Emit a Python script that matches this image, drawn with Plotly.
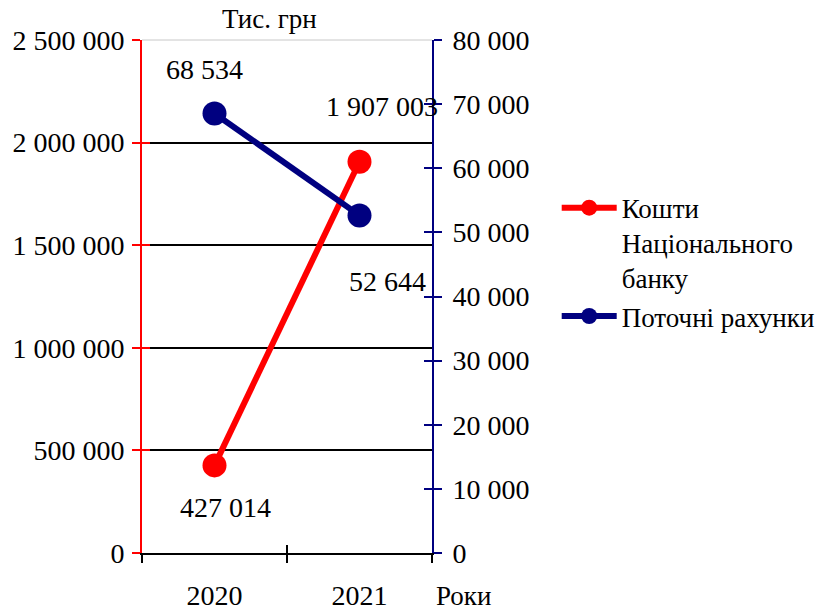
import plotly.graph_objects as go

years = ["2020", "2021"]
nbu_funds = [427014, 1907003]          # Кошти Національного банку, left axis
current_accounts = [68534, 52644]      # Поточні рахунки, right axis
left_ticks = [0, 500000, 1000000, 1500000, 2000000, 2500000]
right_ticks = [0, 10000, 20000, 30000, 40000, 50000, 60000, 70000, 80000]

RED = "#FF0000"
NAVY = "#000080"
FONT = "Liberation Serif"
FS = 28


def fmt(v):
    return f"{v:,}".replace(",", " ")


fig = go.Figure()

fig.add_trace(go.Scatter(
    x=years, y=nbu_funds, name="Кошти<br>Національного<br>банку",
    mode="lines+markers", line=dict(color=RED, width=6),
    marker=dict(color=RED, size=24), yaxis="y", xaxis="x",
))
fig.add_trace(go.Scatter(
    x=years, y=current_accounts, name="Поточні рахунки",
    mode="lines+markers", line=dict(color=NAVY, width=6),
    marker=dict(color=NAVY, size=24), yaxis="y2", xaxis="x",
))
# invisible traces carrying the inner halves of the crossing ticks
fig.add_trace(go.Scatter(x=years, y=nbu_funds, yaxis="y3", xaxis="x2",
                         mode="none", showlegend=False, hoverinfo="skip"))
fig.add_trace(go.Scatter(x=years, y=current_accounts, yaxis="y4", xaxis="x2",
                         mode="none", showlegend=False, hoverinfo="skip"))

# value labels (x given as category index)
labels = [
    (0, nbu_funds[0], "y", 11, -42),
    (1, nbu_funds[1], "y", 22, 55),
    (0, current_accounts[0], "y2", -10, 44),
    (1, current_accounts[1], "y2", 28, -66),
]
for xi, y, yref, dx, dy in labels:
    fig.add_annotation(x=xi, y=y, xref="x", yref=yref, text=fmt(y),
                       showarrow=False, xshift=dx, yshift=dy,
                       xanchor="center", yanchor="middle",
                       font=dict(family=FONT, size=FS, color="black"))

fig.add_annotation(x=0.438, y=1.0, xref="paper", yref="paper", text="Тис. грн",
                   showarrow=False, xanchor="center", yanchor="bottom", yshift=4,
                   font=dict(family=FONT, size=FS - 1, color="black"))
fig.add_annotation(x=1.107, y=0, xref="paper", yref="paper", text="Роки",
                   showarrow=False, xanchor="center", yanchor="middle", yshift=-43,
                   font=dict(family=FONT, size=FS - 1, color="black"))

# light top border of the plot area
fig.add_shape(type="line", xref="x domain", yref="y domain", x0=0, x1=1, y0=1, y1=1,
              line=dict(color="#C8C8C8", width=1), layer="above")

axis_font = dict(family=FONT, size=FS, color="black")
fig.update_layout(
    width=817, height=611,
    margin=dict(l=142, r=385, t=40, b=58, autoexpand=False),
    paper_bgcolor="white", plot_bgcolor="white",
    font=dict(family=FONT, size=FS, color="black"),
    showlegend=True,
    legend=dict(x=1.43, y=0.72, xanchor="left", yanchor="top", valign="top",
                font=dict(family=FONT, size=27, color="black"),
                itemwidth=55, tracegroupgap=0, bgcolor="rgba(0,0,0,0)"),
    xaxis=dict(type="category", range=[-0.5, 1.5], tickson="boundaries",
               ticks="outside", ticklen=8, tickwidth=2, tickcolor="black",
               showline=True, linecolor="black", linewidth=2,
               showgrid=False, zeroline=False, tickfont=axis_font,
               ticklabelstandoff=16, fixedrange=True, automargin=False),
    xaxis2=dict(type="category", range=[-0.5, 1.5], overlaying="x", tickson="boundaries",
                ticks="inside", ticklen=8, tickwidth=2, tickcolor="black",
                showticklabels=False, showline=False, showgrid=False, zeroline=False,
                automargin=False),
    yaxis=dict(range=[0, 2500000], tickvals=left_ticks, ticktext=[fmt(v) for v in left_ticks],
               ticks="outside", ticklen=8, tickwidth=2, tickcolor=RED,
               showline=True, linecolor=RED, linewidth=2,
               showgrid=True, gridcolor="black", gridwidth=2, zeroline=False,
               tickfont=axis_font, ticklabelstandoff=2, automargin=False),
    yaxis2=dict(range=[0, 80000], tickvals=right_ticks, ticktext=[fmt(v) for v in right_ticks],
                overlaying="y", side="right", anchor="x",
                ticks="outside", ticklen=8, tickwidth=2, tickcolor=NAVY,
                showline=True, linecolor=NAVY, linewidth=2,
                showgrid=False, zeroline=False, tickfont=axis_font, ticklabelstandoff=5,
                automargin=False),
    yaxis3=dict(range=[0, 2500000], tickvals=left_ticks, overlaying="y", side="left",
                ticks="inside", ticklen=8, tickwidth=2, tickcolor=RED,
                showticklabels=False, showline=False, showgrid=False, zeroline=False,
                automargin=False),
    yaxis4=dict(range=[0, 80000], tickvals=right_ticks, overlaying="y", side="right",
                ticks="inside", ticklen=8, tickwidth=2, tickcolor=NAVY,
                showticklabels=False, showline=False, showgrid=False, zeroline=False,
                automargin=False),
)

fig.write_html("out.html")
